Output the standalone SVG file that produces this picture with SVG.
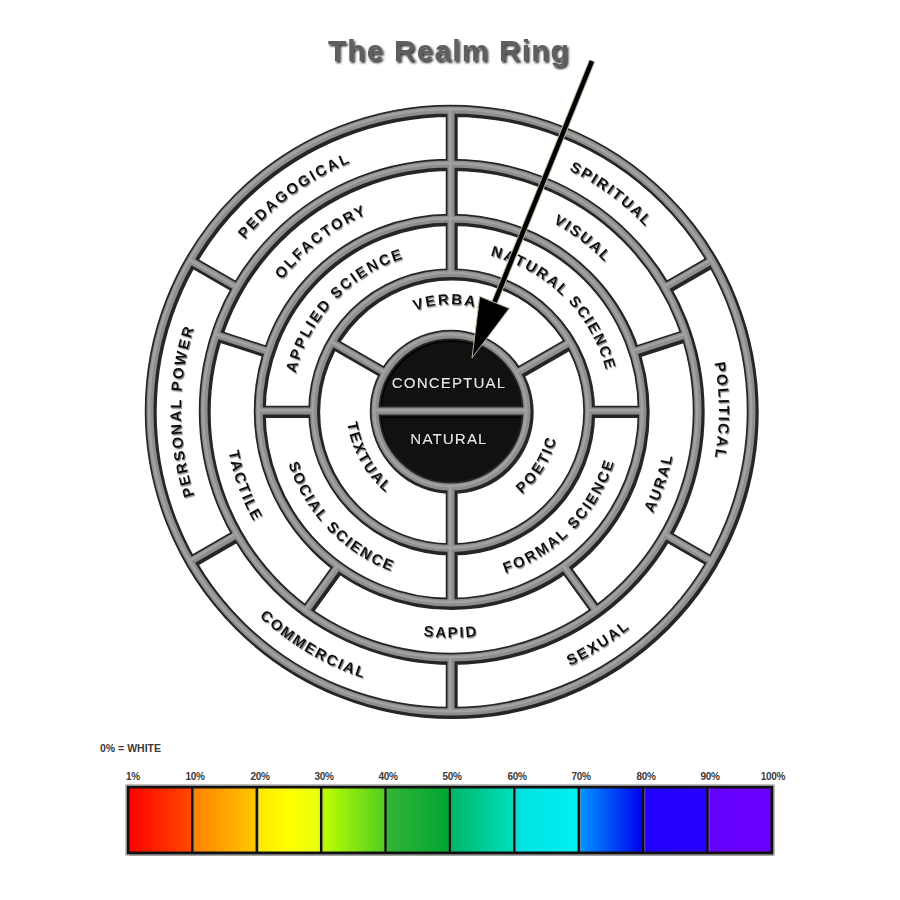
<svg xmlns="http://www.w3.org/2000/svg" width="900" height="900" viewBox="0 0 900 900">
<style>
.lbl{font-family:"Liberation Sans",Arial,sans-serif;font-weight:bold;font-size:15px;letter-spacing:2px;fill:#111}
.core{font-family:"Liberation Sans",Arial,sans-serif;font-size:15px;letter-spacing:1.2px;fill:#e4e4e4;text-anchor:middle}
.pct{font-family:"Liberation Sans",Arial,sans-serif;font-weight:bold;font-size:10px;fill:#3a3a3a;text-anchor:middle;letter-spacing:-0.3px}
.note{font-family:"Liberation Sans",Arial,sans-serif;font-weight:bold;font-size:10.5px;fill:#3a3a3a;text-anchor:start;letter-spacing:0px}
.fr{fill:none}
</style>
<defs>
<filter id="tsh" x="-10%" y="-10%" width="120%" height="130%"><feDropShadow dx="1" dy="1.3" stdDeviation="0.6" flood-color="#777" flood-opacity="0.9"/></filter>
<filter id="ttl" x="-10%" y="-20%" width="120%" height="150%"><feDropShadow dx="1.5" dy="2" stdDeviation="1" flood-color="#000" flood-opacity="0.85"/></filter>
<filter id="csh" x="-10%" y="-20%" width="120%" height="150%"><feDropShadow dx="1" dy="1" stdDeviation="0.5" flood-color="#000" flood-opacity="1"/></filter>
<path id="frame" d="M752,411 A301,301 0 1 0 150,411 A301,301 0 1 0 752,411 Z
M698,411 A247,247 0 1 0 204,411 A247,247 0 1 0 698,411 Z
M643,411 A192,192 0 1 0 259,411 A192,192 0 1 0 643,411 Z
M588.5,411 A137.5,137.5 0 1 0 313.5,411 A137.5,137.5 0 1 0 588.5,411 Z
M527,411 A76,76 0 1 0 375,411 A76,76 0 1 0 527,411 Z
M451,273.5 V110 M664.9,287.5 L711.7,260.5 M664.9,534.5 L711.7,561.5 M451,658 V712
M237.1,534.5 L190.3,561.5 M237.1,287.5 L190.3,260.5
M633.6,351.7 L685.9,334.7 M563.9,566.3 L596.2,610.8 M338.1,566.3 L305.8,610.8 M268.4,351.7 L216.1,334.7
M588.5,411 H643 M313.5,411 H259 M451,487 V603
M385.2,373 L331.9,342.25 M516.8,373 L570.1,342.25 M375,411 H527"/>
<path id="pA1" d="M210.1,528.5 A268,268 0 0 1 637.2,218.2"/>
<path id="pA2" d="M266.5,216.6 A268,268 0 0 1 690.8,530.6"/>
<path id="pA3" d="M497.5,147.1 A268,268 0 0 1 497.5,674.9"/>
<path id="pA4" d="M404.1,676.9 A270,270 0 0 1 404.1,145.1"/>
<path id="pA5" d="M243.5,600.5 A281,281 0 0 0 710.8,303.9"/>
<path id="pA6" d="M187.6,313 A281,281 0 0 0 665,593.1"/>
<path id="pB1" d="M261.2,509.8 A214,214 0 0 1 595.6,253.2"/>
<path id="pB2" d="M306.1,253.5 A214,214 0 0 1 641,509.5"/>
<path id="pB3" d="M415.7,634.2 A226,226 0 0 0 560.6,213.3"/>
<path id="pB4" d="M227.5,450.4 A227,227 0 0 0 674.5,450.4"/>
<path id="pB5" d="M338,215.3 A226,226 0 0 0 490.2,633.6"/>
<path id="pC1" d="M322.6,506.4 A160,160 0 0 1 539.1,277.4"/>
<path id="pC2" d="M359.2,279.9 A160,160 0 0 1 582.1,502.8"/>
<path id="pC3" d="M354.9,552.4 A171,171 0 0 0 589.7,311"/>
<path id="pC4" d="M312.7,310.5 A171,171 0 0 0 546.6,552.8"/>
<path id="pD1" d="M346.1,392.5 A106.5,106.5 0 0 1 555.9,392.5"/>
<path id="pD2" d="M380.5,325.2 A113,113 0 0 0 487.9,515.7"/>
<path id="pD3" d="M410.5,512.2 A109,109 0 0 0 523.6,329.7"/>
<linearGradient id="g1"><stop offset="0" stop-color="#ff0000"/><stop offset="1" stop-color="#ff4a00"/></linearGradient>
<linearGradient id="g2"><stop offset="0" stop-color="#ff8000"/><stop offset="1" stop-color="#ffc800"/></linearGradient>
<linearGradient id="g3"><stop offset="0" stop-color="#ffe800"/><stop offset="0.5" stop-color="#ffff00"/><stop offset="1" stop-color="#e4ff10"/></linearGradient>
<linearGradient id="g4"><stop offset="0" stop-color="#c0ff00"/><stop offset="1" stop-color="#50cc20"/></linearGradient>
<linearGradient id="g5"><stop offset="0" stop-color="#33b533"/><stop offset="1" stop-color="#00a535"/></linearGradient>
<linearGradient id="g6"><stop offset="0" stop-color="#00b565"/><stop offset="1" stop-color="#00e0c0"/></linearGradient>
<linearGradient id="g7"><stop offset="0" stop-color="#00e2e2"/><stop offset="1" stop-color="#00f0f0"/></linearGradient>
<linearGradient id="g8"><stop offset="0" stop-color="#0098ff"/><stop offset="1" stop-color="#0000f0"/></linearGradient>
<linearGradient id="g9"><stop offset="0" stop-color="#2200ff"/><stop offset="1" stop-color="#2800ff"/></linearGradient>
<linearGradient id="g10"><stop offset="0" stop-color="#6400ff"/><stop offset="1" stop-color="#6a00ff"/></linearGradient>
</defs>
<rect width="900" height="900" fill="#fff"/>

<g id="title" filter="url(#ttl)"><text x="449" y="61" text-anchor="middle" font-family="Liberation Sans, Arial, sans-serif" font-weight="bold" font-size="30" letter-spacing="1.1" fill="#5e5e5e">The Realm Ring</text></g>

<g id="core-disk"><circle cx="451" cy="411" r="76" fill="#111"/></g>

<g id="frame-lines" class="fr">
<use href="#frame" stroke="#000" stroke-width="11" transform="translate(1.2,1.5)" opacity="0.85"/>
<use href="#frame" stroke="#262626" stroke-width="10.5"/>
<use href="#frame" stroke="#8e8e8e" stroke-width="7"/>
<use href="#frame" stroke="#a8a8a8" stroke-width="2.5" transform="translate(-0.8,-0.8)" opacity="0.8"/>
</g>

<g id="labels" filter="url(#tsh)">
<g id="pedagogical"><text class="lbl"><textPath href="#pA1" startOffset="50%" text-anchor="middle">PEDAGOGICAL</textPath></text></g>
<g id="spiritual"><text class="lbl"><textPath href="#pA2" startOffset="50%" text-anchor="middle">SPIRITUAL</textPath></text></g>
<g id="political"><text class="lbl"><textPath href="#pA3" startOffset="50%" text-anchor="middle">POLITICAL</textPath></text></g>
<g id="personal-power"><text class="lbl"><textPath href="#pA4" startOffset="50%" text-anchor="middle">PERSONAL POWER</textPath></text></g>
<g id="sexual"><text class="lbl"><textPath href="#pA5" startOffset="50%" text-anchor="middle">SEXUAL</textPath></text></g>
<g id="commercial"><text class="lbl"><textPath href="#pA6" startOffset="50%" text-anchor="middle">COMMERCIAL</textPath></text></g>
<g id="olfactory"><text class="lbl"><textPath href="#pB1" startOffset="50%" text-anchor="middle">OLFACTORY</textPath></text></g>
<g id="visual"><text class="lbl"><textPath href="#pB2" startOffset="50%" text-anchor="middle">VISUAL</textPath></text></g>
<g id="aural"><text class="lbl"><textPath href="#pB3" startOffset="50%" text-anchor="middle">AURAL</textPath></text></g>
<g id="sapid"><text class="lbl"><textPath href="#pB4" startOffset="50%" text-anchor="middle">SAPID</textPath></text></g>
<g id="tactile"><text class="lbl"><textPath href="#pB5" startOffset="50%" text-anchor="middle">TACTILE</textPath></text></g>
<g id="applied-science"><text class="lbl"><textPath href="#pC1" startOffset="50%" text-anchor="middle">APPLIED SCIENCE</textPath></text></g>
<g id="natural-science"><text class="lbl"><textPath href="#pC2" startOffset="50%" text-anchor="middle">NATURAL SCIENCE</textPath></text></g>
<g id="formal-science"><text class="lbl"><textPath href="#pC3" startOffset="50%" text-anchor="middle">FORMAL SCIENCE</textPath></text></g>
<g id="social-science"><text class="lbl"><textPath href="#pC4" startOffset="50%" text-anchor="middle">SOCIAL SCIENCE</textPath></text></g>
<g id="verbal"><text class="lbl"><textPath href="#pD1" startOffset="50%" text-anchor="middle">VERBAL</textPath></text></g>
<g id="textual"><text class="lbl"><textPath href="#pD2" startOffset="50%" text-anchor="middle">TEXTUAL</textPath></text></g>
<g id="poetic"><text class="lbl"><textPath href="#pD3" startOffset="50%" text-anchor="middle">POETIC</textPath></text></g>
</g>

<g id="core-labels" filter="url(#csh)">
<g id="conceptual"><text class="core" x="449" y="388">CONCEPTUAL</text></g>
<g id="natural"><text class="core" x="449" y="444">NATURAL</text></g>
</g>

<g id="connectors">
<line x1="592" y1="61" x2="494.5" y2="302.4" stroke="#b7b39a" stroke-width="6.5"/>
<line x1="592" y1="61" x2="494.5" y2="302.4" stroke="#000" stroke-width="4.6"/>
<polygon points="472,358 479.7,296.4 509.3,308.4" fill="#000" stroke="#b7b39a" stroke-width="1"/>
</g>

<g id="legend">
<text class="note" x="100" y="752">0% = WHITE</text>
<g id="pct-labels">
<text class="pct" x="133" y="780">1%</text>
<text class="pct" x="195" y="780">10%</text>
<text class="pct" x="260" y="780">20%</text>
<text class="pct" x="324" y="780">30%</text>
<text class="pct" x="388" y="780">40%</text>
<text class="pct" x="452" y="780">50%</text>
<text class="pct" x="517" y="780">60%</text>
<text class="pct" x="581" y="780">70%</text>
<text class="pct" x="646" y="780">80%</text>
<text class="pct" x="710" y="780">90%</text>
<text class="pct" x="773" y="780">100%</text>
</g>
<rect x="129.5" y="789.5" width="644" height="66" fill="#000" opacity="0.6"/>
<rect x="128" y="787" width="64.4" height="66" fill="url(#g1)"/>
<rect x="192.4" y="787" width="64.4" height="66" fill="url(#g2)"/>
<rect x="256.8" y="787" width="64.4" height="66" fill="url(#g3)"/>
<rect x="321.2" y="787" width="64.4" height="66" fill="url(#g4)"/>
<rect x="385.6" y="787" width="64.4" height="66" fill="url(#g5)"/>
<rect x="450" y="787" width="64.4" height="66" fill="url(#g6)"/>
<rect x="514.4" y="787" width="64.4" height="66" fill="url(#g7)"/>
<rect x="578.8" y="787" width="64.4" height="66" fill="url(#g8)"/>
<rect x="643.2" y="787" width="64.4" height="66" fill="url(#g9)"/>
<rect x="707.6" y="787" width="64.4" height="66" fill="url(#g10)"/>
<g stroke="#111" stroke-width="2.5">
<path d="M192.4,787 V853 M256.8,787 V853 M321.2,787 V853 M385.6,787 V853 M450,787 V853 M514.4,787 V853 M578.8,787 V853 M643.2,787 V853 M707.6,787 V853"/>
</g>
<g stroke="#8a8a8a" stroke-width="0.8" opacity="0.8">
<path d="M194,788 V852 M258.4,788 V852 M322.8,788 V852 M387.2,788 V852 M451.6,788 V852 M516,788 V852 M580.4,788 V852 M644.8,788 V852 M709.2,788 V852"/>
</g>
<rect x="128" y="787" width="644" height="66" fill="none" stroke="#111" stroke-width="3"/>
<rect x="126" y="785" width="648" height="70" fill="none" stroke="#9a9a9a" stroke-width="1.2"/>
</g>
</svg>
